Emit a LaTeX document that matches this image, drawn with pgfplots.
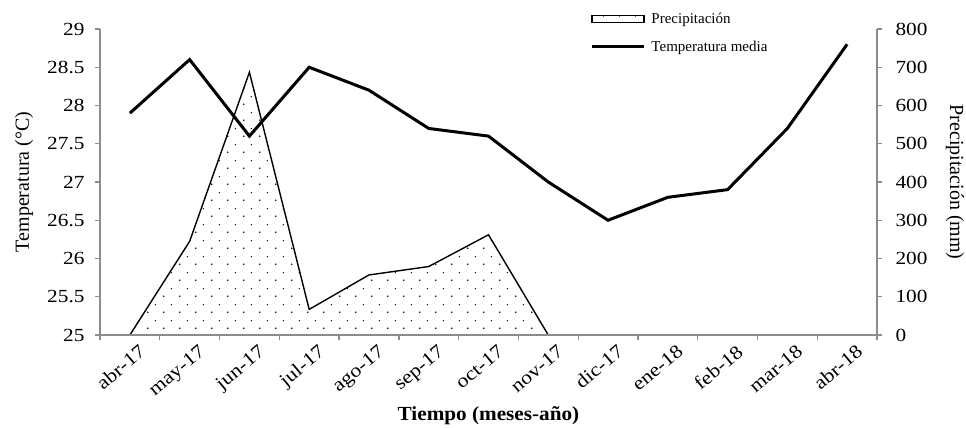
\documentclass[border=0pt]{standalone}
\usepackage{fontspec}
\setmainfont{Liberation Serif}
\newfontfamily\widefont[FakeStretch=1.15]{Liberation Serif}
\newfontfamily\labwide[FakeStretch=1.06]{Liberation Serif}
\usepackage{pgfplots}
\pgfplotsset{compat=1.18}
\usetikzlibrary{patterns}
\pgfdeclarepatternformonly{sdots}{\pgfpointorigin}{\pgfpoint{16pt}{16pt}}{\pgfpoint{16pt}{16pt}}{%
  \pgfpathcircle{\pgfpoint{4pt}{4pt}}{1.0pt}%
  \pgfpathcircle{\pgfpoint{12pt}{12pt}}{0.7pt}%
  \pgfusepath{fill}%
}
\definecolor{axgray}{RGB}{140,140,140}
\newcommand{\tickfont}{\widefont\fontsize{18.5}{20}\selectfont}
\newcommand{\xtickfont}{\widefont\fontsize{19}{20}\selectfont}
\newcommand{\labfont}{\fontsize{20}{22}\selectfont}
\begin{document}
\begin{tikzpicture}
\useasboundingbox (0pt,0pt) rectangle (966pt,-428pt);
% precipitation axis (right)
\begin{axis}[
  at={(100pt,-335pt)}, anchor=south west,
  scale only axis, width=777pt, height=306pt,
  xmin=-0.5, xmax=12.5, ymin=0, ymax=800,
  axis x line=none, axis y line*=right,
  ytick={0,100,...,800},
  axis line style={axgray, line width=1.3pt, -},
  tick style={axgray, line width=1.3pt},
  tick align=outside, major tick length=5pt,
  tick label style={font=\tickfont},
  /pgf/number format/assume math mode=true,
  yticklabel style={xshift=10pt},
  every axis y label/.style={at={(axis description cs:1.1004,0.5)}, rotate=-90, anchor=center, font=\labfont},
  ylabel={Precipitación (mm)},
]
\addplot[draw=none, pattern=sdots] coordinates {
 (0,0) (1,245) (2,687) (3,67) (4,157) (5,179) (6,262) (7,0)} \closedcycle;
\addplot[black, line width=1.4pt] coordinates {
 (0,0) (1,245) (2,687) (3,67) (4,157) (5,179) (6,262) (7,0)};
\end{axis}
% temperature axis (left)
\begin{axis}[
  at={(100pt,-335pt)}, anchor=south west,
  scale only axis, width=777pt, height=306pt,
  xmin=-0.5, xmax=12.5, ymin=25, ymax=29,
  axis x line*=bottom, axis y line*=left,
  ytick={25,25.5,...,29},
  xtick={0,...,12},
  xticklabels={abr-17,may-17,jun-17,jul-17,ago-17,sep-17,oct-17,nov-17,dic-17,ene-18,feb-18,mar-18,abr-18},
  minor xtick={-0.5,0.5,...,12.5},
  major x tick style={draw=none},
  axis line style={axgray, line width=1.3pt, -},
  tick style={axgray, line width=1.3pt},
  tick align=outside, major tick length=5pt, minor tick length=5pt,
  yticklabel style={font=\tickfont, xshift=-7pt},
  /pgf/number format/assume math mode=true,
  xticklabel style={font=\xtickfont, rotate=40, anchor=north east, inner sep=1pt, yshift=-7pt, xshift=5pt},
  every axis y label/.style={at={(axis description cs:-0.0978,0.5)}, rotate=90, anchor=center, font=\labfont},
  ylabel={Temperatura (°C)},
  every axis x label/.style={at={(axis description cs:0.5,-0.262)}, anchor=center, font=\labwide\fontsize{20}{22}\selectfont\bfseries},
  xlabel={Tiempo (meses-año)},
  legend style={at={(axis description cs:0.631,1.06)}, anchor=north west, draw=none, fill=none,
    font=\fontsize{15}{15}\selectfont, row sep=12pt, inner sep=0pt, column sep=4pt,
    nodes={inner sep=2pt}},
  legend cell align=left,
]
\addlegendimage{legend image code/.code={\draw[black, line width=1.2pt, pattern=sdots] (0pt,-3.5pt) rectangle (52pt,3.5pt);}}
\addlegendentry{Precipitación}
\addplot[black, line width=3pt, legend image code/.code={\draw[black, line width=3pt] (0pt,0pt) -- (52pt,0pt);}] coordinates {
 (0,27.9) (1,28.6) (2,27.6) (3,28.5) (4,28.2) (5,27.7) (6,27.6) (7,27.0) (8,26.5) (9,26.8) (10,26.9) (11,27.7) (12,28.8)};
\addlegendentry{Temperatura media}
\end{axis}
\end{tikzpicture}
\end{document}
